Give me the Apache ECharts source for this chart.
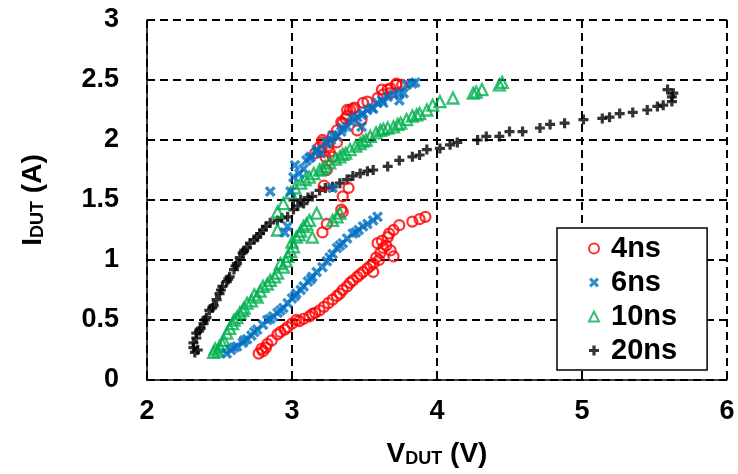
<!DOCTYPE html>
<html><head><meta charset="utf-8">
<script src="https://cdn.jsdelivr.net/npm/echarts@6/dist/echarts.min.js"></script>
<style>html,body{margin:0;padding:0;background:#fff}#c{width:738px;height:474px}</style>
</head><body><div id="c"></div>
<script>
const seriesNames = ['4ns', '6ns', '10ns', '20ns'];
const xTicks = [2, 3, 4, 5, 6];
const yTicks = [0, 0.5, 1, 1.5, 2, 2.5, 3];

const data4ns = [
  [2.77,0.22],[2.79,0.26],[2.80,0.24],[2.83,0.30],[2.86,0.33],[2.90,0.38],[2.95,0.42],[2.97,0.44],
  [3.00,0.47],[3.03,0.50],[3.08,0.51],[3.12,0.53],[3.16,0.56],[3.19,0.58],[3.22,0.61],[3.25,0.64],
  [3.28,0.67],[3.31,0.70],[3.35,0.75],[3.38,0.78],[3.42,0.83],[3.45,0.86],[3.49,0.90],[3.52,0.93],
  [3.56,0.97],[3.56,0.90],[3.58,1.02],[3.61,1.06],[3.59,1.14],[3.63,1.10],[3.66,1.19],[3.68,1.08],
  [3.70,1.03],[3.70,1.25],[3.74,1.29],[3.83,1.32],[3.88,1.34],[3.92,1.36],
  [2.82,0.27],[2.92,0.40],[3.05,0.49],[3.14,0.55],[3.33,0.72],[3.40,0.81],[3.47,0.88],[3.54,0.95],
  [3.60,1.00],[3.62,1.16],[3.65,1.12],[3.67,1.22],
  [3.21,1.23],[3.24,1.30],[3.35,1.40],[3.34,1.42],[3.39,1.60],[3.35,1.53],[3.22,1.62],[3.24,1.75],
  [3.20,1.90],[3.21,2.00],[3.25,1.95],[3.28,2.03],[3.31,1.98],[3.35,2.14],[3.38,2.20],[3.40,2.25],
  [3.43,2.27],[3.45,2.08],[3.48,2.17],[3.52,2.32],[3.59,2.35],[3.63,2.38],[3.66,2.42],[3.68,2.39],
  [3.72,2.46],[3.76,2.46],
  [3.72,2.47],[3.68,2.43],[3.62,2.42],[3.49,2.31],[3.42,2.26],[3.38,2.25],[3.37,2.18],[3.34,2.15],
  [3.31,2.08],[3.21,1.98],[3.19,1.94],[3.26,1.90],[3.28,1.86],[3.23,1.86],[3.16,1.89]
];
const data6ns = [
  [2.55,0.22],[2.58,0.25],[2.62,0.28],[2.66,0.31],[2.69,0.34],[2.72,0.37],[2.76,0.42],[2.80,0.46],
  [2.83,0.50],[2.87,0.53],[2.90,0.56],[2.94,0.60],[2.97,0.64],[3.00,0.68],[3.03,0.72],[3.06,0.75],
  [3.08,0.78],[3.11,0.82],[3.14,0.86],[3.17,0.90],[3.21,0.94],[3.24,0.99],[3.28,1.05],[3.31,1.10],
  [3.35,1.14],[3.38,1.18],[3.42,1.22],[3.46,1.25],[3.49,1.28],[3.52,1.30],[3.56,1.33],[3.59,1.36],
  [2.60,0.27],[2.67,0.33],[2.74,0.40],[2.85,0.51],[2.92,0.58],[3.02,0.70],[3.13,0.84],[3.26,1.02],
  [3.33,1.12],[3.44,1.23],
  [2.85,1.57],[2.95,1.23],[2.97,1.28],[2.99,1.57],[3.01,1.69],[3.02,1.79],[3.05,1.72],[3.08,1.76],
  [3.10,1.83],[3.13,1.86],[3.17,1.92],[3.20,1.89],[3.24,1.97],[3.28,1.60],[3.27,2.00],[3.31,2.03],
  [3.34,2.07],[3.38,2.11],[3.41,2.15],[3.45,2.19],[3.48,2.21],[3.52,2.25],[3.55,2.27],[3.59,2.31],
  [3.62,2.33],[3.66,2.36],[3.70,2.38],[3.74,2.33],[3.74,2.39],[3.79,2.46],[3.83,2.47],
  [3.85,2.48],[3.77,2.39],[3.63,2.31],[3.56,2.26],[3.49,2.22],[3.42,2.18],[3.48,2.11],[3.35,2.10],
  [3.28,2.04],[3.24,1.98],[3.17,1.90],[3.12,1.85]
];
const data10ns = [
  [2.46,0.23],[2.47,0.26],[2.50,0.28],[2.53,0.33],[2.55,0.39],[2.57,0.43],[2.59,0.47],[2.62,0.52],
  [2.64,0.56],[2.67,0.60],[2.69,0.64],[2.72,0.66],[2.76,0.69],[2.78,0.74],[2.80,0.78],[2.85,0.83],
  [2.88,0.86],[2.90,0.89],[2.94,0.94],[2.97,1.03],[2.99,1.07],[3.01,1.11],[3.03,1.19],[3.06,1.24],
  [3.08,1.28],[3.12,1.33],[3.14,1.19],[3.17,1.39],[3.28,1.33],[3.31,1.36],[3.33,1.39],[2.90,1.25],
  [2.49,0.24],[2.52,0.30],[2.60,0.50],[2.66,0.58],[2.74,0.71],[2.83,0.80],[2.92,0.97],[2.96,0.99],
  [3.00,1.15],[3.05,1.21],[3.10,1.30],
  [2.90,1.40],[2.94,1.47],[2.99,1.56],[3.02,1.60],[3.06,1.64],[3.12,1.69],[3.15,1.72],[3.19,1.75],
  [3.23,1.78],[3.26,1.81],[3.30,1.84],[3.33,1.86],[3.37,1.89],[3.40,1.92],[3.44,1.95],[3.47,1.97],
  [3.51,2.00],[3.54,2.03],[3.58,2.06],[3.61,2.08],[3.66,2.10],[3.70,2.11],[3.75,2.14],[3.79,2.17],
  [3.83,2.20],[3.88,2.22],[3.93,2.25],[3.97,2.29],[4.02,2.32],[4.11,2.35],[4.25,2.39],[4.31,2.42],
  [4.43,2.46],[4.45,2.48],
  [3.09,1.67],[3.21,1.76],[3.35,1.88],[3.49,1.99],[3.63,2.09],[3.73,2.13],[3.86,2.21],[4.27,2.40]
];
const data20ns = [
  [2.33,0.23],[2.32,0.27],[2.32,0.31],[2.34,0.35],[2.34,0.39],[2.37,0.43],[2.39,0.47],[2.41,0.52],
  [2.43,0.58],[2.46,0.62],[2.48,0.67],[2.50,0.72],[2.52,0.78],[2.55,0.82],[2.57,0.86],[2.60,0.92],
  [2.62,0.97],[2.64,1.02],[2.66,1.06],[2.69,1.10],[2.71,1.14],[2.74,1.17],[2.76,1.19],[2.80,1.25],
  [2.85,1.31],[2.90,1.33],[2.97,1.36],[3.01,1.42],[3.01,1.50],[3.04,1.45],[3.08,1.47],[3.14,1.53],
  [2.35,0.25],[2.36,0.41],[2.40,0.50],[2.45,0.60],[2.51,0.75],[2.56,0.84],[2.61,0.95],[2.67,1.08],
  [2.78,1.22],[2.82,1.28],[2.93,1.35],[3.06,1.50],[3.11,1.52],
  [3.19,1.58],[3.23,1.60],[3.28,1.61],[3.33,1.64],[3.38,1.67],[3.42,1.70],[3.47,1.72],[3.52,1.74],
  [3.56,1.75],[3.66,1.78],[3.74,1.83],[3.83,1.86],[3.88,1.875],[3.93,1.92],[4.02,1.93],[4.09,1.96],
  [4.14,1.98],[4.28,2.00],[4.34,2.03],[4.43,2.03],[4.50,2.07],[4.59,2.07],[4.71,2.10],[4.78,2.13],
  [4.88,2.14],[5.01,2.17],[5.14,2.18],[5.19,2.19],[5.26,2.22],[5.35,2.23],[5.45,2.25],[5.52,2.28],
  [5.56,2.29],[5.62,2.32],[5.62,2.36],[5.63,2.39],[5.59,2.42]
];

const FONT = '"Liberation Sans", Arial, sans-serif';
const crossPath = 'path://M2.2,0L5,2.8L7.8,0L10,2.2L7.2,5L10,7.8L7.8,10L5,7.2L2.2,10L0,7.8L2.8,5L0,2.2Z';
const plusPath = 'path://M3.4,0H6.6V3.4H10V6.6H6.6V10H3.4V6.6H0V3.4H3.4Z';

const chart = echarts.init(document.getElementById('c'), null, {renderer: 'canvas'});
const gridLine = {show: true, lineStyle: {color: '#000', width: 2, type: [8, 5]}};
const nameRich = {
  a: {fontSize: 28, fontWeight: 'bold', fontFamily: FONT, color: '#000', lineHeight: 34, verticalAlign: 'bottom'},
  b: {fontSize: 18, fontWeight: 'bold', fontFamily: FONT, color: '#000', lineHeight: 14, verticalAlign: 'bottom'}
};
chart.setOption({
  animation: false,
  backgroundColor: '#fff',
  grid: {left: 147, right: 11, top: 20, bottom: 94, containLabel: false},
  xAxis: {
    type: 'value', min: xTicks[0], max: xTicks[xTicks.length - 1], interval: 1,
    axisLine: {show: true, onZero: false, lineStyle: {color: '#000', width: 1.5}},
    axisTick: {show: true, inside: true, length: 7, lineStyle: {color: '#000', width: 1.5}},
    axisLabel: {color: '#000', fontSize: 27, fontWeight: 'bold', fontFamily: FONT, margin: 18},
    splitLine: gridLine,
    name: '{a|V}{b|DUT}{a| (V)}',
    nameLocation: 'middle', nameGap: 54,
    nameTextStyle: {rich: nameRich}
  },
  yAxis: {
    type: 'value', min: yTicks[0], max: yTicks[yTicks.length - 1], interval: 0.5,
    axisLine: {show: true, onZero: false, lineStyle: {color: '#000', width: 1.5}},
    axisTick: {show: true, inside: true, length: 7, lineStyle: {color: '#000', width: 1.5}},
    axisLabel: {color: '#000', fontSize: 27, fontWeight: 'bold', fontFamily: FONT, margin: 28},
    splitLine: gridLine,
    name: '{a|I}{b|DUT}{a| (A)}',
    nameLocation: 'middle', nameGap: 100,
    nameTextStyle: {rich: nameRich}
  },
  legend: {
    orient: 'vertical', left: 557, top: 228,
    data: seriesNames,
    backgroundColor: '#fff', borderColor: '#000', borderWidth: 1.5, borderRadius: 0,
    padding: [6, 30, 5, 31], itemGap: 5, itemWidth: 10, itemHeight: 10,
    textStyle: {color: '#000', fontSize: 29, fontWeight: 'bold', fontFamily: FONT, lineHeight: 28, padding: [0, 0, 0, 7]}
  },
  series: [
    {name: seriesNames[0], type: 'scatter', data: data4ns, z: 2, symbol: 'circle', symbolSize: 10,
     itemStyle: {color: 'rgba(255,255,255,0)', borderColor: '#ff0000', borderWidth: 2.3}},
    {name: seriesNames[1], type: 'scatter', data: data6ns, z: 4, symbol: crossPath, symbolSize: 11,
     itemStyle: {color: '#0070c0'}},
    {name: seriesNames[2], type: 'scatter', data: data10ns, z: 3, symbol: 'triangle', symbolSize: 11,
     itemStyle: {color: 'rgba(255,255,255,0)', borderColor: '#00b050', borderWidth: 2.3}},
    {name: seriesNames[3], type: 'scatter', data: data20ns, z: 1, symbol: plusPath, symbolSize: 10,
     itemStyle: {color: '#000'}}
  ]
});
</script></body></html>
